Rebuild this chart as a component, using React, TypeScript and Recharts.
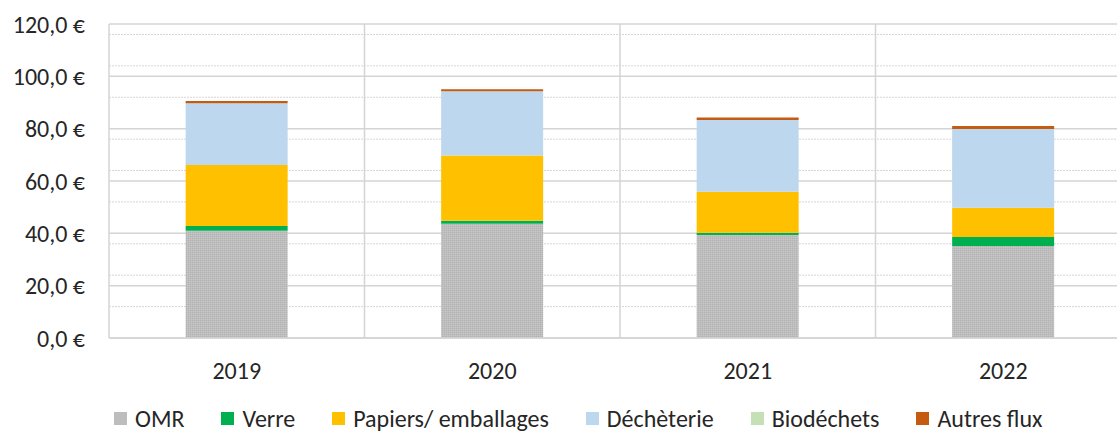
import React from 'react';
import { BarChart, Bar, XAxis, YAxis, CartesianGrid, Legend } from 'recharts';

const years = ['2019', '2020', '2021', '2022'];
const omr = [41.0, 43.7, 39.4, 35.2];
const verre = [1.8, 1.1, 0.8, 3.4];
const papiers = [23.3, 24.9, 15.7, 11.2];
const decheterie = [23.6, 24.6, 27.4, 30.1];
const biodechets = [0, 0, 0, 0];
const autresFlux = [0.9, 0.8, 1.0, 1.1];

const yTicks = [0, 20, 40, 60, 80, 100, 120];
const minorTicks = [4, 8, 12, 16, 24, 28, 32, 36, 44, 48, 52, 56, 64, 68, 72, 76, 84, 88, 92, 96, 104, 108, 112, 116];

const series = [
  { key: 'omr', name: 'OMR', color: '#BDBDBD', fill: 'url(#omrPattern)' },
  { key: 'verre', name: 'Verre', color: '#00B050', fill: '#00B050' },
  { key: 'papiers', name: 'Papiers/ emballages', color: '#FFC000', fill: '#FFC000' },
  { key: 'decheterie', name: 'Déchèterie', color: '#BDD7EE', fill: '#BDD7EE' },
  { key: 'biodechets', name: 'Biodéchets', color: '#C5E0B4', fill: '#C5E0B4' },
  { key: 'autres', name: 'Autres flux', color: '#C55A11', fill: '#C55A11' },
];

const data = years.map((year, i) => ({
  year,
  omr: omr[i],
  verre: verre[i],
  papiers: papiers[i],
  decheterie: decheterie[i],
  biodechets: biodechets[i],
  autres: autresFlux[i],
}));

const FONT = 'Carlito, Calibri, Lato, sans-serif';
const TEXT = '#262626';
const FS = 24;

const formatEuro = (v: number) => `${v.toFixed(1).replace('.', ',')} €`;

const renderLegend = () => (
  <div style={{ display: 'flex', alignItems: 'center', height: 28, fontFamily: FONT, fontSize: FS, color: TEXT, whiteSpace: 'nowrap' }}>
    {series.map(s => (
      <span key={s.key} style={{ display: 'inline-flex', alignItems: 'center', marginRight: 37 }}>
        <span style={{ display: 'inline-block', width: 13, height: 13, background: s.color, marginRight: 8 }} />
        {s.name}
      </span>
    ))}
  </div>
);

const App: React.FC = () => {
  return (
    <div style={{ position: 'absolute', left: 0, top: 0, width: 1117, height: 432, overflow: 'hidden', background: '#fff' }}>
      <BarChart
        width={1140}
        height={432}
        data={data}
        margin={{ top: 24, right: 9, left: 0, bottom: 0 }}
        barCategoryGap="30%"
      >
        <defs>
          <pattern id="omrPattern" width="2" height="2" patternUnits="userSpaceOnUse">
            <rect width="2" height="2" fill="#BEBEBE" />
            <rect width="1" height="1" fill="#B2B2B2" />
            <rect x="1" y="1" width="1" height="1" fill="#C6C6C6" />
          </pattern>
        </defs>

        {/* minor gridlines */}
        <CartesianGrid
          vertical={false}
          horizontalValues={minorTicks}
          stroke="#D6D6D6"
          strokeDasharray="2 1"
        />
        {/* major gridlines + category borders */}
        <CartesianGrid
          horizontalValues={yTicks}
          verticalCoordinatesGenerator={({ offset }: any) =>
            years.map((_, i) => offset.left + (i * offset.width) / years.length).concat(offset.left + offset.width)
          }
          stroke="#D4D4D4"
          strokeWidth={1.5}
        />

        <XAxis
          dataKey="year"
          height={66}
          axisLine={{ stroke: '#D4D4D4', strokeWidth: 1.5 }}
          tickLine={false}
          tickSize={0}
          tickMargin={24}
          tick={{ fill: TEXT, fontSize: FS, fontFamily: FONT }}
        />
        <YAxis
          width={109}
          domain={[0, 120]}
          ticks={yTicks}
          tickFormatter={formatEuro}
          axisLine={false}
          tickLine={false}
          tickSize={0}
          tickMargin={24}
          tick={{ fill: TEXT, fontSize: FS, fontFamily: FONT }}
        />

        {series.map(s => (
          <Bar
            key={s.key}
            dataKey={s.key}
            name={s.name}
            stackId="total"
            fill={s.fill}
            isAnimationActive={false}
          />
        ))}

        <Legend
          verticalAlign="bottom"
          content={renderLegend}
          wrapperStyle={{ left: 114, width: 1000 }}
        />
      </BarChart>
    </div>
  );
};

export default App;
